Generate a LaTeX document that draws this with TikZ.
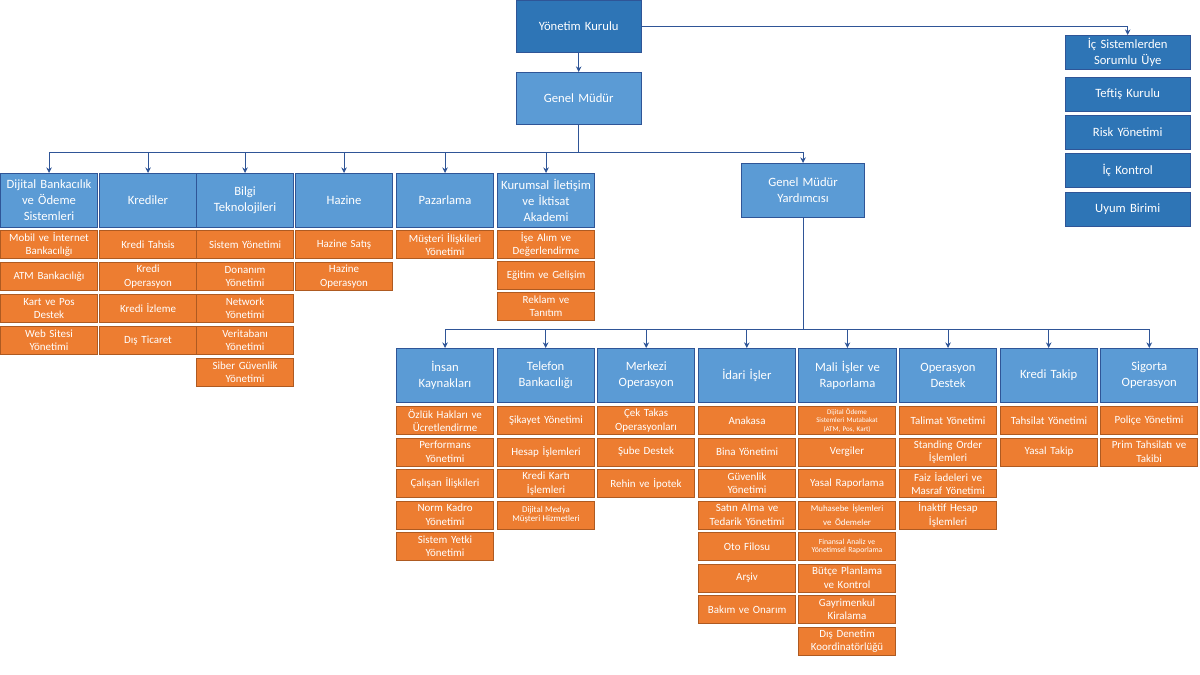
\documentclass[tikz,border=0pt]{standalone}
\usepackage{fontspec}
\setmainfont{Carlito}
\usetikzlibrary{arrows.meta, calc}
\definecolor{darkblue}{HTML}{2E75B6}
\definecolor{midblue}{HTML}{5B9BD5}
\definecolor{edgeblue}{HTML}{2F5597}
\definecolor{boxorange}{HTML}{ED7D31}
\definecolor{edgeorange}{HTML}{AE5A21}

\begin{document}
\begin{tikzpicture}[
    x=0.025cm, y=-0.025cm,
    top/.style={rectangle, draw=edgeblue, fill=darkblue, text=white, anchor=north west, minimum width=3.12cm, minimum height=1.3cm, text width=2.9cm, align=center, inner sep=1pt, font=\fontsize{9}{11.5}\selectfont},
    side/.style={top, minimum height=0.86cm},
    hdr/.style={rectangle, draw=edgeblue, line width=0.6pt, fill=midblue, text=white, anchor=north west, minimum width=2.43cm, minimum height=1.35cm, text width=2.25cm, align=center, inner sep=1pt, font=\fontsize{9}{11.5}\selectfont},
    sub/.style={rectangle, draw=edgeorange, line width=0.6pt, fill=boxorange, text=white, anchor=north west, minimum width=2.43cm, minimum height=0.7cm, text width=2.3cm, align=center, inner sep=0.5pt, font=\fontsize{7.8}{9.6}\selectfont},
    tiny/.style={font=\fontsize{5}{6.2}\selectfont},
    conn/.style={-{Stealth[length=4pt,width=4pt]}, draw=edgeblue, line width=0.7pt}
]
    \useasboundingbox (0,0) rectangle (1200,675);

    % top of the chart
    \node[top] (yk) at (516,0) {Yönetim Kurulu};
    \node[top, fill=midblue] (gm) at (516,72) {Genel Müdür};
    \node[side] (ic1) at (1065,35) {İç Sistemlerden\\Sorumlu Üye};
    \node[side] (ic2) at (1065,77) {Teftiş Kurulu};
    \node[side] (ic3) at (1065,115) {Risk Yönetimi};
    \node[side] (ic4) at (1065,153) {İç Kontrol};
    \node[side] (ic5) at (1065,192) {Uyum Birimi};
    \node[hdr, minimum width=3.08cm, text width=2.9cm] (gmy) at (741,163) {Genel Müdür\\Yardımcısı};

    \draw[conn] (yk) -- (gm);
    \draw[conn] (yk.east) -| (ic1.north);

    % first row
    \node[hdr] (h1) at (0,173) {Dijital Bankacılık\\ve Ödeme\\Sistemleri};
    \node[hdr] (h2) at (99,173) {Krediler};
    \node[hdr] (h3) at (196,173) {Bilgi\\Teknolojileri};
    \node[hdr] (h4) at (295,173) {Hazine};
    \node[hdr] (h5) at (396,173) {Pazarlama};
    \node[hdr] (h6) at (497,173) {Kurumsal İletişim\\ve İktisat\\Akademi};

    \foreach \i in {1,...,6}
        \draw[conn] (gm.south) -- ++(0,28) -| (h\i.north);
    \draw[conn] (gm.south) -- ++(0,28) -| (gmy.north);

    \foreach \t [count=\i] in {{Mobil ve İnternet\\Bankacılığı},{ATM Bankacılığı},{Kart ve Pos\\Destek},{Web Sitesi\\Yönetimi}}
        \node[sub] (a\i) at (0,{230+32*(\i-1)}) {\t};
    \foreach \t [count=\i] in {{Kredi Tahsis},{Kredi\\Operasyon},{Kredi İzleme},{Dış Ticaret}}
        \node[sub] (b\i) at (99,{230+32*(\i-1)}) {\t};
    \foreach \t [count=\i] in {{Sistem Yönetimi},{Donanım\\Yönetimi},{Network\\Yönetimi},{Veritabanı\\Yönetimi},{Siber Güvenlik\\Yönetimi}}
        \node[sub] (c\i) at (196,{230+32*(\i-1)}) {\t};
    \foreach \t [count=\i] in {{Hazine Satış},{Hazine\\Operasyon}}
        \node[sub] (d\i) at (295,{230+32*(\i-1)}) {\t};
    \node[sub] (e1) at (396,230) {Müşteri İlişkileri\\Yönetimi};
    \foreach \t [count=\i] in {{İşe Alım ve\\Değerlendirme},{Eğitim ve Gelişim},{Reklam ve\\Tanıtım}}
        \node[sub] (f\i) at (497,{230+31*(\i-1)}) {\t};

    % second row
    \foreach \t [count=\i] in {{İnsan\\Kaynakları},{Telefon\\Bankacılığı},{Merkezi\\Operasyon},{İdari İşler},{Mali İşler ve\\Raporlama},{Operasyon\\Destek},{Kredi Takip},{Sigorta\\Operasyon}}
    {
        \node[hdr] (s\i) at ({396+100.6*(\i-1)},348) {\t};
        \draw[conn] (gmy.south) -- ++(0,112) -| (s\i.north);
    }

    \foreach \t [count=\i] in {{Özlük Hakları ve\\Ücretlendirme},{Performans\\Yönetimi},{Çalışan İlişkileri},{Norm Kadro\\Yönetimi},{Sistem Yetki\\Yönetimi}}
        \node[sub] (g\i) at (396,{406+31.5*(\i-1)}) {\t};
    \foreach \t [count=\i] in {{Şikayet Yönetimi},{Hesap İşlemleri},{Kredi Kartı\\İşlemleri}}
        \node[sub] (k\i) at (497,{406+31.5*(\i-1)}) {\t};
    \node[sub, tiny] (k4) at (497,500.5) {\fontsize{6.3}{8}\selectfont Dijital Medya\\Müşteri Hizmetleri};
    \foreach \t [count=\i] in {{Çek Takas\\Operasyonları},{Şube Destek},{Rehin ve İpotek}}
        \node[sub] (m\i) at (597,{406+31.5*(\i-1)}) {\t};
    \foreach \t [count=\i] in {{Anakasa},{Bina Yönetimi},{Güvenlik\\Yönetimi},{Satın Alma ve\\Tedarik Yönetimi},{Oto Filosu},{Arşiv},{Bakım ve Onarım}}
        \node[sub] (p\i) at (698,{406+31.5*(\i-1)}) {\t};
    \node[sub, tiny] (r1) at (798,406) {Dijital Ödeme\\Sistemleri Mutabakat\\(ATM, Pos, Kart)};
    \node[sub] (r2) at (798,437.5) {Vergiler};
    \node[sub] (r3) at (798,469) {Yasal Raporlama};
    \node[sub] (r4) at (798,500.5) {\fontsize{6.3}{8}\selectfont Muhasebe İşlemleri\\ve Ödemeler};
    \node[sub, tiny] (r5) at (798,532) {\fontsize{5.5}{7}\selectfont Finansal Analiz ve\\Yönetimsel Raporlama};
    \foreach \t [count=\i from 6] in {{Bütçe Planlama\\ve Kontrol},{Gayrimenkul\\Kiralama},{Dış Denetim\\Koordinatörlüğü}}
        \node[sub] (r\i) at (798,{406+31.5*(\i-1)}) {\t};
    \foreach \t [count=\i] in {{Talimat Yönetimi},{Standing Order\\İşlemleri},{Faiz İadeleri ve\\Masraf Yönetimi},{İnaktif Hesap\\İşlemleri}}
        \node[sub] (t\i) at (899,{406+31.5*(\i-1)}) {\t};
    \foreach \t [count=\i] in {{Tahsilat Yönetimi},{Yasal Takip}}
        \node[sub] (u\i) at (1000,{406+31.5*(\i-1)}) {\t};
    \foreach \t [count=\i] in {{Poliçe Yönetimi},{Prim Tahsilatı ve\\Takibi}}
        \node[sub] (v\i) at (1100,{406+31.5*(\i-1)}) {\t};
\end{tikzpicture}
\end{document}
